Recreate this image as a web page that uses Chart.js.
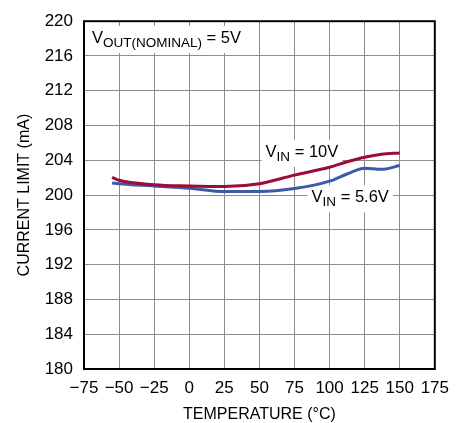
<!DOCTYPE html>
<html>
<head>
<meta charset="utf-8">
<script src="https://cdn.jsdelivr.net/npm/chart.js@4.4.1/dist/chart.umd.min.js"></script>
<style>
  html, body { margin: 0; padding: 0; background: #fff; }
</style>
</head>
<body>
<canvas id="chart" width="458" height="423"></canvas>
<script>
// values
const temperatures = [-55, -50, -25, 0, 25, 50, 75, 100, 112, 125, 137, 150];
const vin10 = [202.05, 201.7, 201.2, 201.05, 200.98, 201.3, 202.3, 203.2, 203.8, 204.35, 204.7, 204.85];
const vin56 = [201.4, 201.3, 201.05, 200.8, 200.4, 200.4, 200.75, 201.6, 202.4, 203.1, 202.96, 203.4];
const xTicks = [-75, -50, -25, 0, 25, 50, 75, 100, 125, 150, 175];
const yTicks = [180, 184, 188, 192, 196, 200, 204, 208, 212, 216, 220];

const FONT = "'Liberation Sans', Arial, sans-serif";

function toPoints(xs, ys) {
  return xs.map((x, i) => ({ x: x, y: ys[i] }));
}

// text with a subscript part, on a white box, anchored in data units
function drawLabel(chart, xVal, yVal, parts) {
  const ctx = chart.ctx;
  const x0 = chart.scales.x.getPixelForValue(xVal);
  const base = chart.scales.y.getPixelForValue(yVal);
  let w = 0;
  parts.forEach(p => {
    ctx.font = p.size + 'px ' + FONT;
    p.w = ctx.measureText(p.t).width;
    w += p.w;
  });
  ctx.save();
  ctx.fillStyle = '#fff';
  ctx.fillRect(x0 - 4, base - 17, w + 8, 27);
  ctx.fillStyle = '#000';
  ctx.textBaseline = 'alphabetic';
  let x = x0;
  parts.forEach(p => {
    ctx.font = p.size + 'px ' + FONT;
    ctx.fillText(p.t, x, base + (p.dy || 0));
    x += p.w;
  });
  ctx.restore();
}

const notes = {
  id: 'notes',
  beforeDatasetsDraw(chart) {
    drawLabel(chart, -69.3, 217.5, [
      { t: 'V', size: 16.5 }, { t: 'OUT(NOMINAL)', size: 13.5, dy: 4 }, { t: ' = 5V', size: 16.5 }
    ]);
    drawLabel(chart, 54.4, 204.4, [
      { t: 'V', size: 16.5 }, { t: 'IN', size: 13.5, dy: 4 }, { t: ' = 10V', size: 16.5 }
    ]);
    drawLabel(chart, 87.2, 199.16, [
      { t: 'V', size: 16.5 }, { t: 'IN', size: 13.5, dy: 4 }, { t: ' = 5.6V', size: 16.5 }
    ]);
  },
  afterDraw(chart) {
    const a = chart.chartArea;
    const ctx = chart.ctx;
    ctx.save();
    ctx.strokeStyle = '#000';
    ctx.lineWidth = 2;
    ctx.strokeRect(a.left, a.top, a.right - a.left, a.bottom - a.top);
    ctx.restore();
  }
};

const ctx = document.getElementById('chart').getContext('2d');

// eslint-disable-next-line no-unused-vars
const myChart = new Chart(ctx, {
  type: 'scatter',
  data: {
    datasets: [
      {
        label: 'VIN = 10V',
        data: toPoints(temperatures, vin10),
        showLine: true,
        borderColor: '#9c0c36',
        borderWidth: 3,
        pointRadius: 0,
        cubicInterpolationMode: 'monotone',
      },
      {
        label: 'VIN = 5.6V',
        data: toPoints(temperatures, vin56),
        showLine: true,
        borderColor: '#3d59ab',
        borderWidth: 3,
        pointRadius: 0,
        cubicInterpolationMode: 'monotone',
      },
    ],
  },
  options: {
    responsive: false,
    animation: false,
    devicePixelRatio: 1,
    layout: { padding: { left: 0, right: 21, top: 18, bottom: 0 } },
    plugins: {
      legend: { display: false },
      tooltip: { enabled: false },
    },
    scales: {
      x: {
        type: 'linear',
        min: xTicks[0],
        max: xTicks[xTicks.length - 1],
        afterBuildTicks(scale) { scale.ticks = xTicks.map(v => ({ value: v })); },
        afterFit(scale) { scale.height = 54; },
        grid: { color: '#8c8c8c', lineWidth: 1, drawTicks: false },
        border: { display: false },
        ticks: {
          color: '#000',
          padding: 9,
          maxRotation: 0,
          autoSkip: false,
          font: { family: FONT, size: 17 },
          callback: v => (v < 0 ? '\u2212' + Math.abs(v) : String(v)),
        },
        title: {
          display: true,
          text: 'TEMPERATURE (°C)',
          color: '#000',
          padding: { top: 0, bottom: 0 },
          font: { family: FONT, size: 16, lineHeight: 1 },
        },
      },
      y: {
        type: 'linear',
        min: yTicks[0],
        max: yTicks[yTicks.length - 1],
        afterBuildTicks(scale) { scale.ticks = yTicks.map(v => ({ value: v })); },
        afterFit(scale) { scale.width = 84; },
        grid: { color: '#8c8c8c', lineWidth: 1, drawTicks: false },
        border: { display: false },
        ticks: {
          color: '#000',
          padding: 11,
          autoSkip: false,
          font: { family: FONT, size: 17 },
        },
        title: {
          display: true,
          text: 'CURRENT LIMIT (mA)',
          color: '#000',
          padding: { top: 15, bottom: 0 },
          font: { family: FONT, size: 16, lineHeight: 1.2 },
        },
      },
    },
  },
  plugins: [notes],
});
</script>
</body>
</html>
